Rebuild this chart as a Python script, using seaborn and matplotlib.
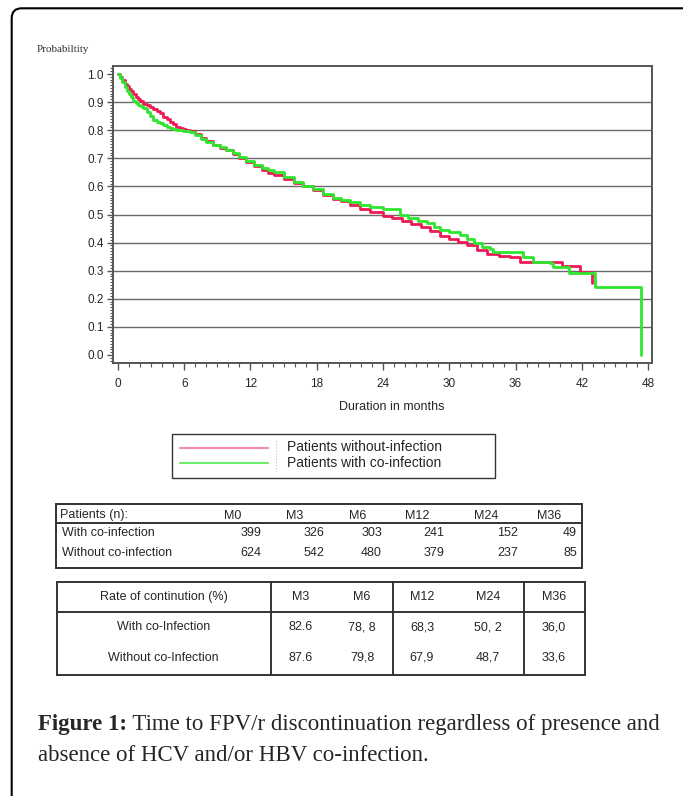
import matplotlib
matplotlib.use("Agg")
import matplotlib.pyplot as plt
import numpy as np
import pandas as pd
import seaborn as sns
from matplotlib.patches import FancyBboxPatch, Rectangle
from matplotlib.ticker import MultipleLocator

# Kaplan-Meier curves (months, probability)
red_t = [0, 0.2, 0.4, 0.6, 0.8, 1.0, 1.2, 1.4, 1.6, 1.8, 2.0, 2.3, 2.6, 2.9, 3.2,
         3.5, 3.8, 4.1, 4.4, 4.7, 5.0, 5.3, 5.6, 5.9, 6.2, 6.5, 7.0, 7.5, 8.0, 8.6,
         9.2, 9.8, 10.4, 11.0, 11.6, 12.3, 13.0, 13.6, 14.1, 15.0, 15.9, 16.8, 17.7,
         18.6, 19.5, 20.2, 21.0, 21.9, 22.8, 24.0, 24.8, 25.7, 26.5, 27.4, 28.3, 29.2,
         30.0, 30.8, 31.6, 32.5, 33.4, 34.5, 35.5, 36.4, 40.2, 41.8, 42.9]
red_p = [1.0, 0.990, 0.978, 0.966, 0.958, 0.948, 0.938, 0.928, 0.918, 0.910, 0.903,
         0.895, 0.890, 0.883, 0.876, 0.870, 0.860, 0.848, 0.839, 0.830, 0.821, 0.812,
         0.807, 0.803, 0.800, 0.797, 0.785, 0.772, 0.760, 0.748, 0.738, 0.728, 0.715,
         0.700, 0.688, 0.672, 0.658, 0.648, 0.640, 0.626, 0.612, 0.600, 0.587, 0.571,
         0.556, 0.548, 0.535, 0.519, 0.508, 0.495, 0.486, 0.476, 0.466, 0.456, 0.440,
         0.424, 0.413, 0.402, 0.392, 0.375, 0.360, 0.353, 0.350, 0.332, 0.318, 0.296,
         0.255]
green_t = [0, 0.2, 0.4, 0.6, 0.8, 1.0, 1.2, 1.4, 1.6, 1.8, 2.0, 2.3, 2.6, 2.9, 3.2,
           3.5, 3.8, 4.1, 4.4, 4.7, 5.0, 5.3, 5.9, 6.5, 7.0, 7.5, 8.0, 8.6, 9.2, 9.8,
           10.4, 11.0, 11.6, 12.3, 13.0, 13.6, 14.1, 15.0, 15.9, 16.8, 17.7, 18.6, 19.5,
           20.2, 21.0, 21.9, 22.8, 24.0, 25.5, 26.3, 27.2, 28.0, 28.6, 29.2, 30.0, 31.0,
           31.6, 32.2, 33.0, 33.7, 34.0, 36.7, 37.6, 39.1, 39.4, 40.8, 43.2, 47.4]
green_p = [1.0, 0.985, 0.970, 0.955, 0.940, 0.930, 0.918, 0.905, 0.897, 0.890, 0.885,
           0.878, 0.866, 0.850, 0.836, 0.830, 0.824, 0.818, 0.813, 0.808, 0.804, 0.800,
           0.797, 0.793, 0.783, 0.770, 0.758, 0.748, 0.740, 0.730, 0.718, 0.705, 0.692,
           0.677, 0.665, 0.658, 0.650, 0.632, 0.617, 0.603, 0.590, 0.574, 0.558, 0.552,
           0.544, 0.534, 0.528, 0.518, 0.498, 0.488, 0.478, 0.468, 0.456, 0.445, 0.438,
           0.427, 0.412, 0.397, 0.385, 0.378, 0.368, 0.350, 0.332, 0.326, 0.312, 0.291,
           0.243, 0.0]

series = ["Patients without-infection", "Patients with co-infection"]
colors = ["#ee1a55", "#2ee62e"]

y_ticks = [0.0, 0.1, 0.2, 0.3, 0.4, 0.5, 0.6, 0.7, 0.8, 0.9, 1.0]
x_ticks = [0, 6, 12, 18, 24, 30, 36, 42, 48]

# patients at risk table
n_cols = ["M0", "M3", "M6", "M12", "M24", "M36"]
n_with = ["399", "326", "303", "241", "152", "49"]
n_without = ["624", "542", "480", "379", "237", "85"]

# rate of continuation table
rate_cols = ["M3", "M6", "M12", "M24", "M36"]
rate_with = ["82.6", "78, 8", "68,3", "50, 2", "36,0"]
rate_without = ["87.6", "79,8", "67,9", "48,7", "33,6"]

caption_bold = "Figure 1:"
caption_1 = " Time to FPV/r discontinuation regardless of presence and"
caption_2 = "absence of HCV and/or HBV co-infection."

sns.set_style("white")
plt.rcParams["font.family"] = ["Liberation Sans", "DejaVu Sans"]

W, H = 683, 796
fig = plt.figure(figsize=(W / 100, H / 100), dpi=100)

# overlay in pixel coordinates for frame, legend, tables, caption
ov = fig.add_axes([0, 0, 1, 1])
ov.set_xlim(0, W)
ov.set_ylim(H, 0)
ov.axis("off")

ax = fig.add_axes([113 / W, 1 - 363 / H, 539 / W, 297 / H])

df = pd.concat([
    pd.DataFrame({"month": red_t, "prob": red_p, "group": series[0]}),
    pd.DataFrame({"month": green_t, "prob": green_p, "group": series[1]}),
])
for v in y_ticks[1:-1]:
    ax.axhline(v, color="#6a6a6a", lw=1.0, zorder=1)
sns.lineplot(data=df, x="month", y="prob", hue="group", hue_order=series,
             palette=dict(zip(series, colors)), drawstyle="steps-post",
             estimator=None, sort=False, legend=False, lw=2.0, ax=ax, zorder=3)

ax.set_xlim(-0.45, 48.36)
ax.set_ylim(-0.0285, 1.0285)
ax.set_xticks(x_ticks)
ax.set_xticklabels([str(t) for t in x_ticks])
ax.set_yticks(y_ticks)
ax.set_yticklabels([f"{t:.1f}" for t in y_ticks])
ax.xaxis.set_minor_locator(MultipleLocator(1))
ax.yaxis.set_minor_locator(MultipleLocator(0.01))
ax.tick_params(which="both", bottom=True, left=True, direction="out", color="#555555")
ax.tick_params(axis="y", which="major", length=4, width=1, labelsize=8.5, pad=2.5)
ax.tick_params(axis="y", which="minor", length=2.2, width=0.8)
ax.tick_params(axis="x", which="major", length=5, width=1, labelsize=8.5, pad=6)
ax.tick_params(axis="x", which="minor", length=3, width=0.8)
for s in ax.spines.values():
    s.set_color("#555555")
    s.set_linewidth(1.4)
ax.set_ylabel("")
ax.set_xlabel("Duration in months", fontsize=9)
ax.xaxis.set_label_coords((391.5 - 113) / 539, (363 - 401) / 297)

# outer rounded frame
ov.add_patch(FancyBboxPatch((11.7, 8.3), 720, 830, boxstyle="round,pad=0,rounding_size=10",
                            fill=False, ec="black", lw=1.5))
ov.text(37, 50, "Probabiltity", family="Liberation Serif", fontsize=8, color="#333333",
        va="center", ha="left")

# legend
ov.add_patch(Rectangle((171.7, 434), 323, 44, fill=False, ec="#333333", lw=1.0))
ov.plot([180, 268], [447.7, 447.7], color=colors[0], lw=1.5, alpha=0.5)
ov.plot([180, 268], [463, 463], color=colors[1], lw=1.5, alpha=0.7)
ov.plot([276, 276], [441, 471], color="#bbbbbb", lw=0.8, ls=":")
ov.text(287, 447, series[0], fontsize=10, va="center", ha="left")
ov.text(287, 463, series[1], fontsize=10, va="center", ha="left")

# patients table
ov.add_patch(Rectangle((56, 504.3), 526, 64, fill=False, ec="#333333", lw=1.4))
ov.plot([56, 582], [523, 523], color="#333333", lw=1.4)
ov.text(60, 515, "Patients (n):", fontsize=9, va="center", ha="left")
n_head_x = [224, 286, 349, 405, 474, 537]
n_val_x = [261, 324, 382, 444, 518, 577]
for hx, vx, c, a, b in zip(n_head_x, n_val_x, n_cols, n_with, n_without):
    ov.text(hx, 516, c, fontsize=9, va="center", ha="left")
    ov.text(vx, 533.3, a, fontsize=9, va="center", ha="right")
    ov.text(vx, 553.3, b, fontsize=9, va="center", ha="right")
ov.text(62, 533.3, "With co-infection", fontsize=9, va="center", ha="left")
ov.text(62, 553.3, "Without co-infection", fontsize=9, va="center", ha="left")

# rate table
ov.add_patch(Rectangle((56.8, 582.3), 528.4, 93, fill=False, ec="#333333", lw=1.4))
ov.plot([56.8, 585.2], [612, 612], color="#333333", lw=1.4)
for dx in [270.5, 392.5, 524.2]:
    ov.plot([dx, dx], [582.3, 675.3], color="#333333", lw=1.4)
ov.text(163.5, 597, "Rate of continution (%)", fontsize=9, va="center", ha="center")
ov.text(163.5, 627, "With co-Infection", fontsize=9, va="center", ha="center")
ov.text(163.5, 658, "Without co-Infection", fontsize=9, va="center", ha="center")
rate_x = [301, 362, 422, 488, 554]
for rx, c, a, b in zip(rate_x, rate_cols, rate_with, rate_without):
    ov.text(rx, 597, c, fontsize=9, va="center", ha="center")
    ov.text(rx, 627, a, fontsize=9, va="center", ha="center")
    ov.text(rx, 658, b, fontsize=9, va="center", ha="center")

# caption
tb = ov.text(38, 730, caption_bold, family="Liberation Serif", fontsize=16.5,
             fontweight="bold", va="baseline", ha="left")
ov.annotate(caption_1, xy=(1, 0), xycoords=tb, family="Liberation Serif",
            fontsize=16.5, va="bottom", ha="left")
ov.text(38, 761, caption_2, family="Liberation Serif", fontsize=16.5,
        va="baseline", ha="left")

fig.savefig("out.png", dpi=100, facecolor="white")
